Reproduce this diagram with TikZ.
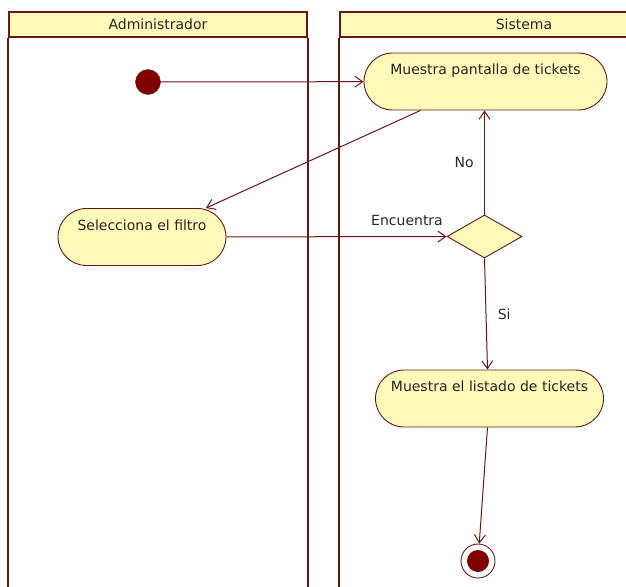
\documentclass[tikz,border=0pt]{standalone}
\usepackage{fontspec}
\setmainfont{DejaVu Sans}
\usepackage{tikz}
\usetikzlibrary{arrows.meta,shapes.geometric,shapes.misc,positioning}

\definecolor{lanered}{RGB}{105,22,22}
\definecolor{dotred}{RGB}{128,0,0}
\definecolor{noteyellow}{RGB}{255,250,185}

\tikzset{
  lanehead/.style={draw=lanered,line width=1.8pt,fill=noteyellow,minimum height=25pt,inner sep=0pt},
  laneline/.style={draw=lanered,line width=1.8pt},
  activity/.style={draw=lanered,line width=0.9pt,fill=noteyellow,rounded rectangle,minimum height=57pt,
    text height=10.5pt,text depth=24.5pt,inner xsep=0pt},
  decision/.style={draw=lanered,line width=0.9pt,fill=noteyellow,diamond,minimum width=75pt,minimum height=43pt,inner sep=0pt},
  flow/.style={draw=lanered,line width=1pt},
  edgelabel/.style={text=black!85}
}

\begin{document}
\begin{tikzpicture}[x=1pt,y=-1pt,>={Straight Barb[length=8pt,width=11pt]},
  font=\fontsize{14}{16}\selectfont,text=black!85]

\useasboundingbox (0,0) rectangle (626,586);

\node (admin) at (158,24.5) [lanehead,minimum width=298pt]{Administrador};
\node (sistema) at (524,24.5) [lanehead,minimum width=368pt]{Sistema};

\draw [laneline] (admin.south west) -- (admin.south west |- 0,590);
\draw [laneline] (admin.south east) -- (admin.south east |- 0,590);
\draw [laneline] (sistema.south west) -- (sistema.south west |- 0,590);

\node (start) at (148,82) [circle,draw=lanered,fill=dotred,minimum size=25pt,inner sep=0pt]{};

\node (pantalla) at (485.5,81.5) [activity,minimum width=243pt]{Muestra pantalla de tickets};
\node (filtro) at (142,237) [activity,minimum width=168pt]{Selecciona el filtro};
\node (decide) at (484.5,236.5) [decision]{};
\node (listado) at (489.5,398.5) [activity,minimum width=228pt]{Muestra el listado de tickets};

\node (final) at (478,561) [circle,draw=lanered,line width=0.9pt,minimum size=34pt,inner sep=0pt,
  path picture={\fill[dotred] (path picture bounding box.center) circle (11pt);}]{};

\draw [flow,->] (start) -- (pantalla);
\draw [flow,->] ([xshift=-65pt]pantalla.south) -- ([xshift=64pt]filtro.north);
\draw [flow,->] (filtro) -- node[edgelabel,pos=0.82,above=7pt]{Encuentra} (decide);
\draw [flow,->] (decide.north) -- node[edgelabel,left=7pt]{No} (decide.north |- pantalla.south);
\draw [flow,->] (decide.south) -- node[edgelabel,right=8pt]{Si} ([xshift=-2pt]listado.north);
\draw [flow,->] ([xshift=-2pt]listado.south) -- (final);

\end{tikzpicture}
\end{document}
